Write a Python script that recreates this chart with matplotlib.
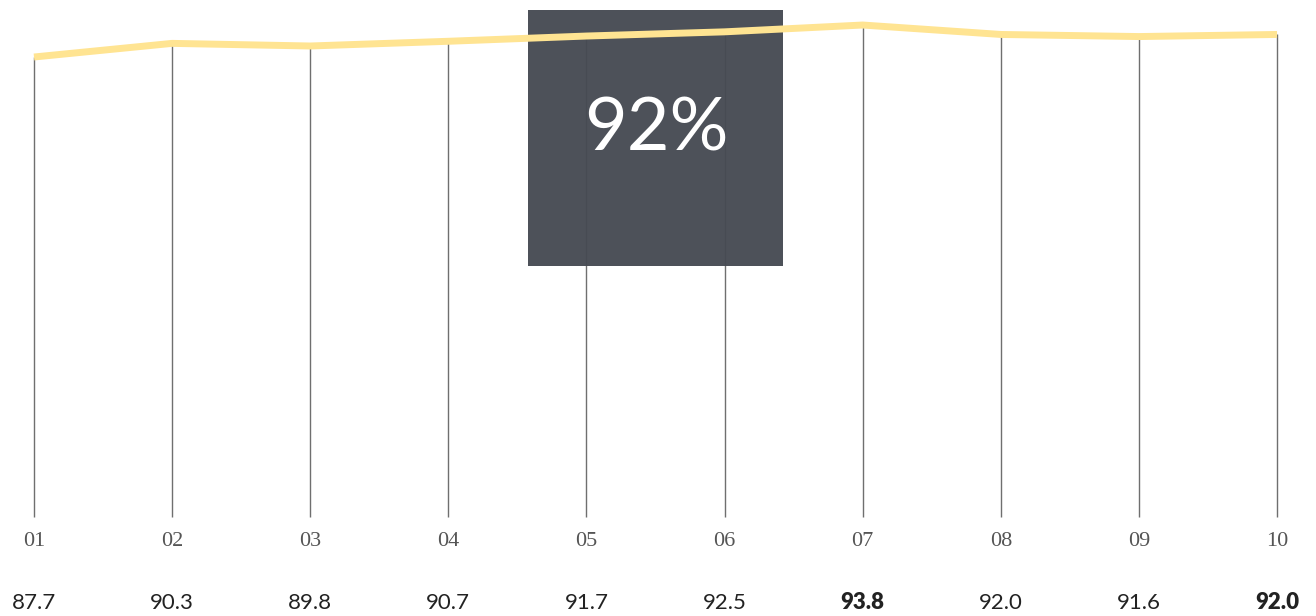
import matplotlib
matplotlib.use("Agg")
import matplotlib.pyplot as plt
from matplotlib.patches import Rectangle

# data
months = ["01", "02", "03", "04", "05", "06", "07", "08", "09", "10"]
values = [87.7, 90.3, 89.8, 90.7, 91.7, 92.5, 93.8, 92.0, 91.6, 92.0]
bold_idx = [6, 9]
headline = "92%"

fig = plt.figure(figsize=(13.16, 6.16), dpi=100)
ax = fig.add_axes([0, 0, 1, 1])
ax.set_xlim(-0.246, 9.282)
ax.set_ylim(-18.88, 98.57)
ax.axis("off")

x = list(range(len(values)))

# vertical stems from baseline up to the line
ax.vlines(x, 0, values, color="#6f6f6f", linewidth=1.0, zorder=1)

# dark box with the headline number
box = Rectangle((528 / 1316, 1 - 266 / 616), 255 / 1316, 256 / 616,
                transform=ax.transAxes, facecolor="#464a52", alpha=0.96,
                edgecolor="none", zorder=2)
ax.add_patch(box)
ax.text(656 / 1316, 1 - 130 / 616, headline, transform=ax.transAxes,
        ha="center", va="center", color="white", fontsize=53,
        family="Lato", fontweight="normal", zorder=4)

# the line
ax.plot(x, values, color="#ffe492", linewidth=5, solid_capstyle="butt",
        solid_joinstyle="round", zorder=3)

# month labels and values under the stems
for i, (m, v) in enumerate(zip(months, values)):
    ax.text(i, -4.6, m, ha="center", va="center", fontsize=16,
            family="Liberation Serif", color="#555555")
    ax.text(i, -16.4, f"{v:.1f}", ha="center", va="center", fontsize=16,
            family="Lato", color="#222222",
            fontweight="heavy" if i in bold_idx else "normal")

fig.savefig("out.png", dpi=100)
